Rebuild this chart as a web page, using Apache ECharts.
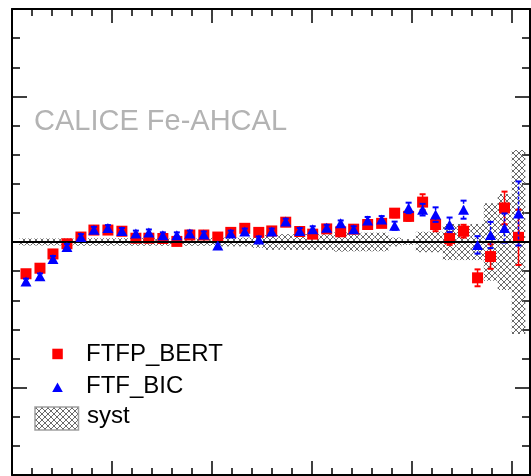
<!DOCTYPE html>
<html>
<head>
<meta charset="utf-8">
<script src="https://cdn.jsdelivr.net/npm/echarts@6/dist/echarts.min.js"></script>
<style>
  html, body { margin: 0; padding: 0; background: #fff; }
  #chart { width: 531px; height: 476px; }
</style>
</head>
<body>
<div id="chart"></div>
<script>
// bin centres
const binX = [1.4, 2.8, 4.1, 5.5, 6.9, 8.2, 9.6, 11.0, 12.4, 13.7, 15.1, 16.5, 17.8, 19.2, 20.6, 21.9, 23.3, 24.7, 26.0,
  27.4, 28.8, 30.1, 31.5, 32.9, 34.2, 35.6, 37.0, 38.3, 39.7, 41.1, 42.4, 43.8, 45.2, 46.6, 47.9, 49.3, 50.7];

// deviation (%) per bin
const ftfpBert = [-1.09, -0.90, -0.41, -0.06, 0.17, 0.41, 0.41, 0.37, 0.13, 0.13, 0.12, 0.02, 0.24, 0.24, 0.17, 0.33, 0.47, 0.33, 0.38,
  0.68, 0.36, 0.27, 0.45, 0.35, 0.44, 0.60, 0.64, 0.99, 0.88, 1.37, 0.60, 0.12, 0.37, -1.23, -0.50, 1.17, 0.16];
const ftfpBertErr = [0.1, 0.1, 0.1, 0.1, 0.1, 0.1, 0.1, 0.1, 0.1, 0.1, 0.1, 0.1, 0.1, 0.1, 0.1, 0.1, 0.1, 0.1, 0.1,
  0.1, 0.1, 0.1, 0.1, 0.1, 0.1, 0.12, 0.12, 0.14, 0.15, 0.27, 0.23, 0.22, 0.22, 0.29, 0.42, 0.56, 0.95];

const ftfBic = [-1.36, -1.18, -0.58, -0.17, 0.17, 0.42, 0.48, 0.38, 0.29, 0.33, 0.23, 0.23, 0.29, 0.26, -0.12, 0.29, 0.36, 0.09, 0.36,
  0.70, 0.38, 0.44, 0.49, 0.64, 0.44, 0.74, 0.77, 0.56, 1.17, 1.11, 0.94, 0.59, 1.11, -0.10, 0.24, 0.48, 0.98];
const ftfBicErr = [0.1, 0.1, 0.1, 0.1, 0.1, 0.1, 0.1, 0.1, 0.1, 0.1, 0.1, 0.1, 0.1, 0.1, 0.1, 0.1, 0.1, 0.1, 0.1,
  0.1, 0.1, 0.1, 0.1, 0.1, 0.1, 0.12, 0.12, 0.14, 0.18, 0.2, 0.25, 0.25, 0.31, 0.3, 0.45, 0.5, 1.1];

// systematic band half width (%)
const systErr = [0.12, 0.12, 0.12, 0.12, 0.13, 0.13, 0.13, 0.13, 0.13, 0.13, 0.13, 0.13, 0.13, 0.13, 0.15, 0.15, 0.15, 0.2, 0.27,
  0.27, 0.27, 0.27, 0.27, 0.33, 0.32, 0.32, 0.32, 0.15, 0.1, 0.35, 0.35, 0.62, 0.62, 0.62, 1.33, 1.65, 3.16];

const binHalf = 0.68;
const font = '"Liberation Sans", Arial, Helvetica, sans-serif';

// cross hatch fill
const hatch = document.createElement('canvas');
hatch.width = 6;
hatch.height = 6;
const hctx = hatch.getContext('2d');
hctx.strokeStyle = '#6a6a6a';
hctx.lineWidth = 1;
hctx.beginPath();
hctx.moveTo(0, 0); hctx.lineTo(6, 6);
hctx.moveTo(6, 0); hctx.lineTo(0, 6);
hctx.stroke();
const hatchFill = { image: hatch, repeat: 'repeat' };

const chart = echarts.init(document.getElementById('chart'));

const xAxisBase = {
  type: 'value', min: 0, max: 51.85, interval: 10,
  axisLine: { show: true, onZero: false, lineStyle: { color: '#000', width: 2 } },
  axisTick: { show: true, inside: true, length: 14, lineStyle: { color: '#000', width: 1.5 } },
  minorTick: { show: true, splitNumber: 5, length: 7, lineStyle: { color: '#000', width: 1.5 } },
  axisLabel: { show: false },
  splitLine: { show: false }
};
const yAxisBase = {
  type: 'value', min: -8, max: 8, splitNumber: 3,
  axisLine: { show: true, onZero: false, lineStyle: { color: '#000', width: 2 } },
  axisTick: { show: true, inside: true, length: 15, lineStyle: { color: '#000', width: 1.5 } },
  minorTick: { show: true, splitNumber: 5, length: 8, lineStyle: { color: '#000', width: 1.5 } },
  axisLabel: { show: false },
  splitLine: { show: false }
};

function errorBars(dashed) {
  return function (params, api) {
    const x = api.value(0), y = api.value(1), e = api.value(2);
    const top = api.coord([x, y + e]);
    const bot = api.coord([x, y - e]);
    const cap = 3;
    const style = { stroke: api.visual('color'), lineWidth: 1.5, lineDash: dashed ? [3, 2] : null };
    const capStyle = { stroke: api.visual('color'), lineWidth: 2 };
    return {
      type: 'group',
      children: [
        { type: 'line', shape: { x1: top[0], y1: top[1], x2: bot[0], y2: bot[1] }, style: style },
        { type: 'line', shape: { x1: top[0] - cap, y1: top[1], x2: top[0] + cap, y2: top[1] }, style: capStyle },
        { type: 'line', shape: { x1: bot[0] - cap, y1: bot[1], x2: bot[0] + cap, y2: bot[1] }, style: capStyle }
      ]
    };
  };
}

const option = {
  animation: false,
  backgroundColor: '#fff',
  grid: { left: 12, right: 1, top: 9, bottom: 1 },
  xAxis: [
    Object.assign({}, xAxisBase, { position: 'bottom' }),
    Object.assign({}, xAxisBase, { position: 'top' })
  ],
  yAxis: [
    Object.assign({}, yAxisBase, { position: 'left' }),
    Object.assign({}, yAxisBase, { position: 'right' })
  ],
  series: [
    {
      name: 'syst',
      type: 'custom',
      z: 1,
      data: binX.map((x, i) => [x, systErr[i]]),
      renderItem: function (params, api) {
        const x = api.value(0), s = api.value(1);
        const p0 = api.coord([x - binHalf, s]);
        const p1 = api.coord([x + binHalf, -s]);
        return {
          type: 'rect',
          shape: { x: p0[0], y: p0[1], width: p1[0] - p0[0], height: p1[1] - p0[1] },
          style: { fill: hatchFill }
        };
      }
    },
    {
      name: 'FTFP_BERT err',
      type: 'custom',
      z: 2,
      itemStyle: { color: '#ff0000' },
      data: binX.map((x, i) => [x, ftfpBert[i], ftfpBertErr[i]]),
      renderItem: errorBars(false)
    },
    {
      name: 'FTFP_BERT',
      type: 'scatter',
      z: 3,
      symbol: 'rect',
      symbolSize: 11,
      itemStyle: { color: '#ff0000', opacity: 1 },
      data: binX.map((x, i) => [x, ftfpBert[i]])
    },
    {
      name: 'FTF_BIC err',
      type: 'custom',
      z: 4,
      itemStyle: { color: '#0000ff' },
      data: binX.map((x, i) => [x, ftfBic[i], ftfBicErr[i]]),
      renderItem: errorBars(true)
    },
    {
      name: 'FTF_BIC',
      type: 'scatter',
      z: 5,
      symbol: 'triangle',
      symbolSize: [11, 10],
      itemStyle: { color: '#0000ff', opacity: 1 },
      data: binX.map((x, i) => [x, ftfBic[i]])
    },
    {
      name: 'zero',
      type: 'line',
      z: 6,
      data: [],
      markLine: {
        silent: true,
        symbol: 'none',
        label: { show: false },
        lineStyle: { color: '#000', width: 2, type: 'solid' },
        data: [{ yAxis: 0 }]
      }
    }
  ],
  graphic: [
    { type: 'text', x: 34, y: 121.5, style: { text: 'CALICE Fe-AHCAL', fill: '#b3b3b3', font: '29px ' + font, align: 'left', verticalAlign: 'middle' } },
    { type: 'rect', shape: { x: 52.3, y: 348.7, width: 10.5, height: 10.5 }, style: { fill: '#ff0000' } },
    { type: 'text', x: 86, y: 354, style: { text: 'FTFP_BERT', fill: '#000', font: '24px ' + font, align: 'left', verticalAlign: 'middle' } },
    { type: 'polygon', shape: { points: [[57.5, 382.5], [62.8, 392], [52.2, 392]] }, style: { fill: '#0000ff' } },
    { type: 'text', x: 86, y: 386, style: { text: 'FTF_BIC', fill: '#000', font: '24px ' + font, align: 'left', verticalAlign: 'middle' } },
    { type: 'rect', shape: { x: 35, y: 407, width: 43.5, height: 23 }, style: { fill: hatchFill, stroke: '#a0a0a0', lineWidth: 1.5 } },
    { type: 'text', x: 87, y: 416, style: { text: 'syst', fill: '#000', font: '24px ' + font, align: 'left', verticalAlign: 'middle' } }
  ]
};

chart.setOption(option);
</script>
</body>
</html>
